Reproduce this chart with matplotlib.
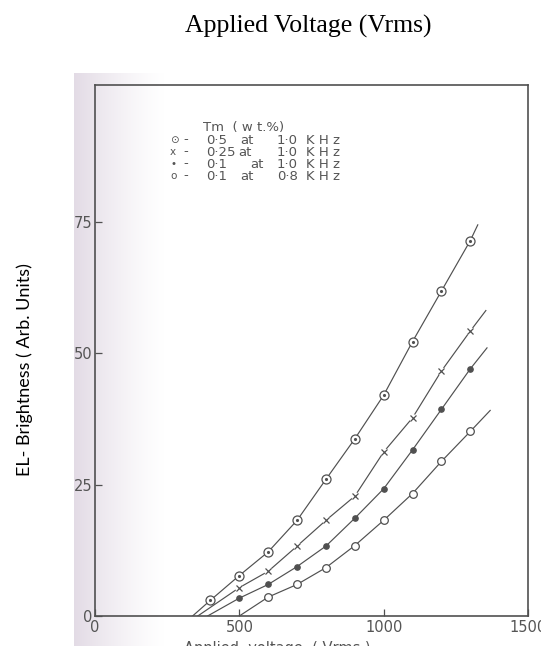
import numpy as np
import matplotlib
matplotlib.use("Agg")
import matplotlib.pyplot as plt

# data (V in Vrms, brightness in arb. units)
v_05 = [400, 500, 600, 700, 800, 900, 1000, 1100, 1200, 1300]
b_05 = [3.0, 7.7, 12.2, 18.2, 26.0, 33.7, 42.0, 52.2, 61.8, 71.4]
v_025 = [500, 600, 700, 800, 900, 1000, 1100, 1200, 1300]
b_025 = [5.4, 8.5, 13.3, 18.2, 22.8, 31.2, 37.7, 46.6, 54.2]
v_01 = [500, 600, 700, 800, 900, 1000, 1100, 1200, 1300]
b_01 = [3.4, 6.0, 9.4, 13.3, 18.6, 24.2, 31.6, 39.3, 47.0]
v_01b = [600, 700, 800, 900, 1000, 1100, 1200, 1300]
b_01b = [3.6, 6.0, 9.2, 13.4, 18.2, 23.3, 29.4, 35.1]

# where the hand drawn curves start (on the axis) and stop
start_v = [338, 356, 390, 500]
end_v = [1326, 1354, 1358, 1369]
end_b = [74.4, 58.1, 51.0, 39.1]

W, H = 541, 646
ink = "#505050"

fig = plt.figure(figsize=(W / 100, H / 100), dpi=100)
fig.patch.set_facecolor("white")


def fx(px):
    return px / W


def fy(py):
    return 1 - py / H


# scanned paper background (pale strip on the left)
bg = fig.add_axes([fx(74), 0, 1 - fx(74), fy(73)], zorder=0)
g = np.ones((1, 467, 3))
cols = np.arange(467)
fade = np.clip(1 - cols / 90.0, 0, 1) ** 1.3
base = np.array([0.89, 0.86, 0.90])
for i in range(3):
    g[:, :, i] = 1 - (1 - base[i]) * fade
bg.imshow(g, aspect="auto", extent=[0, 1, 0, 1])
bg.axis("off")

ax = fig.add_axes([fx(95), fy(616), fx(528) - fx(95), (616 - 85) / H], zorder=1)
ax.set_facecolor("none")

series = [(v_05, b_05), (v_025, b_025), (v_01, b_01), (v_01b, b_01b)]
for i, (v, b) in enumerate(series):
    xs = [start_v[i]] + v + [end_v[i]]
    ys = [0] + b + [end_b[i]]
    ax.plot(xs, ys, color=ink, lw=0.85, zorder=2)

# markers
ax.plot(v_05, b_05, "o", ms=6.5, mfc="white", mec=ink, mew=0.9, zorder=3)
ax.plot(v_05, b_05, ".", ms=2.5, color=ink, zorder=4)
ax.plot(v_025, b_025, "o", ms=6, mfc="white", mec="none", zorder=3)
ax.plot(v_025, b_025, "x", ms=5, color=ink, mew=0.9, zorder=4)
ax.plot(v_01, b_01, "o", ms=3.8, color=ink, zorder=3)
ax.plot(v_01b, b_01b, "o", ms=5.5, mfc="white", mec=ink, mew=0.9, zorder=3)

ax.set_xlim(0, 1500)
ax.set_ylim(0, 101)
ax.set_xticks([0, 500, 1000, 1500])
ax.set_yticks([0, 25, 50, 75])
ax.tick_params(direction="in", length=5, width=0.9, color=ink,
               labelcolor="#555555", labelsize=10.5)
ax.tick_params(axis="x", pad=3)
ax.tick_params(axis="y", pad=2)
for s in ax.spines.values():
    s.set_color(ink)
    s.set_linewidth(1.2)

# typed legend block
tc = "#555555"
fs = 9.5
fig.text(fx(203), fy(128), "Tm  ( w t.%)", fontsize=fs, color=tc, va="center")
rows = [
    (140, "\u2299", "0\u00b75", 240, "1\u00b70"),
    (152, "x", "0\u00b725", 238, "1\u00b70"),
    (164, "\u2022", "0\u00b71", 250, "1\u00b70"),
    (176, "o", "0\u00b71", 240, "0\u00b78"),
]
for y, sym, val, xat, freq in rows:
    fig.text(fx(170), fy(y), sym, fontsize=7.5, color=tc, va="center")
    fig.text(fx(183), fy(y), "-", fontsize=fs, color=tc, va="center")
    fig.text(fx(206), fy(y), val, fontsize=fs, color=tc, va="center")
    fig.text(fx(xat), fy(y), "at", fontsize=fs, color=tc, va="center")
    fig.text(fx(277), fy(y), freq, fontsize=fs, color=tc, va="center")
    fig.text(fx(306), fy(y), "K H z", fontsize=fs, color=tc, va="center")

# x label of the scan, mostly cut off by the image edge
fig.text(fx(184), fy(641), "Applied  voltage  ( Vrms )", fontsize=10.5,
         color=tc, va="top", ha="left")

# labels added on top of the scan
fig.text(fx(308), fy(33), "Applied Voltage (Vrms)", family="Liberation Serif",
         fontsize=18.5, color="black", ha="center", va="baseline")
fig.text(fx(25), fy(370), "EL- Brightness ( Arb. Units)", family="Lato",
         fontsize=13, color="black", rotation=90, ha="center", va="center")

fig.savefig("out.png", dpi=100)
